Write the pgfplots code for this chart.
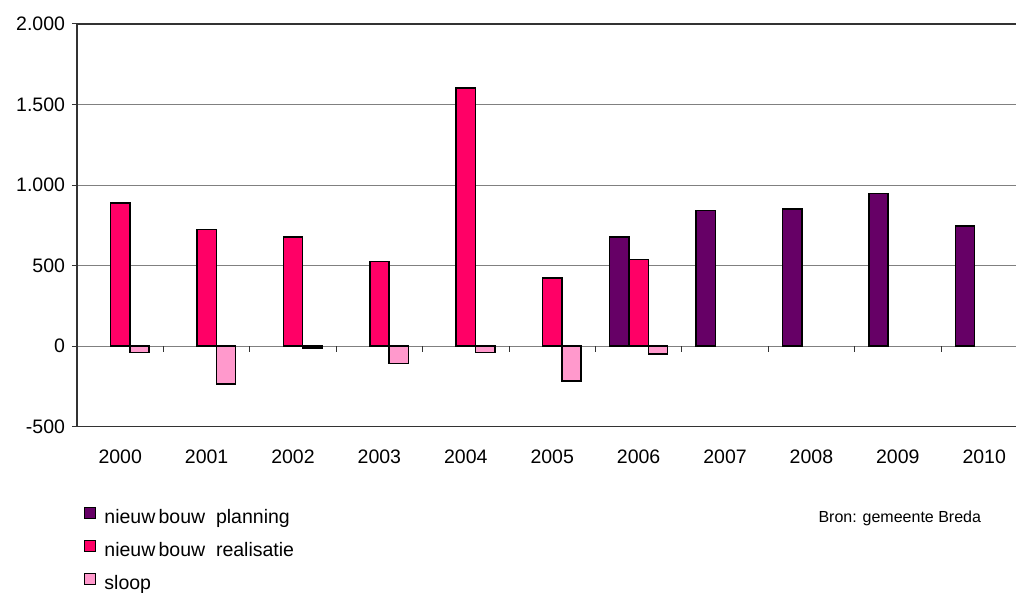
\documentclass[border=0pt]{standalone}
\usepackage{fontspec}
\setmainfont{Liberation Sans}
\usepackage{pgfplots}
\pgfplotsset{compat=1.18}

\definecolor{planning}{HTML}{660066}
\definecolor{realisatie}{HTML}{FF0066}
\definecolor{sloop}{HTML}{FF99CC}
\definecolor{gridgray}{HTML}{808080}
\definecolor{framegray}{HTML}{333333}

\begin{document}
\begin{tikzpicture}
\begin{axis}[
  at={(0pt,0pt)}, anchor=south west,
  scale only axis,
  width=939pt, height=402.7pt,
  xmin=-0.5, xmax=10.368,
  ymin=-500, ymax=2000,
  axis lines=left,
  axis line style={-, framegray, line width=1.3pt},
  ybar=0pt, bar width=19.3pt,
  font=\fontsize{19.5}{23}\selectfont,
  xtick={0,...,10},
  xticklabels={2000,2001,2002,2003,2004,2005,2006,2007,2008,2009,2010},
  x tick style={draw=none},
  x tick label style={anchor=base, yshift=-31.3pt},
  ytick={-500,0,500,1000,1500,2000},
  yticklabels={-500,0,500,1.000,1.500,2.000},
  y tick style={framegray, line width=1pt},
  y tick label style={xshift=-3.5pt},
  tick align=outside,
  major tick length=5pt,
  ymajorgrids,
  grid style={gridgray, line width=1pt},
  clip=false,
  legend cell align=left,
  legend style={
    at={(axis description cs:0,0)}, anchor=north west,
    xshift=7pt, yshift=-80pt,
    draw=none, fill=none, inner sep=0pt,
    row sep=12.5pt,
    nodes={inner sep=0pt, text height=14pt, text depth=4pt},
    font=\fontsize{19.5}{23}\selectfont,
  },
  legend image code/.code={
    \draw[#1, draw=black, line width=1pt] (0pt,0pt) rectangle (11pt,11pt);
    \path (19pt,0pt);
  },
  every axis plot/.append style={draw=black, line width=1.5pt},
]
% planned new construction
\addplot[fill=planning]
  coordinates {(6,677) (7,843) (8,853) (9,948) (10,747)};
% realised new construction
\addplot[fill=realisatie]
  coordinates {(0,888) (1,724) (2,677) (3,527) (4,1603) (5,422) (6,538)};
% demolition
\addplot[fill=sloop]
  coordinates {(0,-38) (1,-235) (2,-10) (3,-107) (4,-38) (5,-215) (6,-49)};
\legend{nieuw\,bouw\ \ planning, nieuw\,bouw\ \ realisatie, sloop}

% top frame line and category separators on the zero line
\draw[framegray, line width=1.3pt] (rel axis cs:0,1) -- (rel axis cs:1,1);
\pgfplotsinvokeforeach{0,...,9}{
  \draw[framegray, line width=1pt] (axis cs:#1.5,0) -- ++(0pt,-6pt);
}
\end{axis}
\node[anchor=base west, font=\fontsize{16}{19}\selectfont] at (738pt,-96pt) {Bron: gemeente Breda};
\pgfresetboundingbox
\path (-77pt,-166.3pt) rectangle (939pt,426.7pt);
\end{tikzpicture}
\end{document}
